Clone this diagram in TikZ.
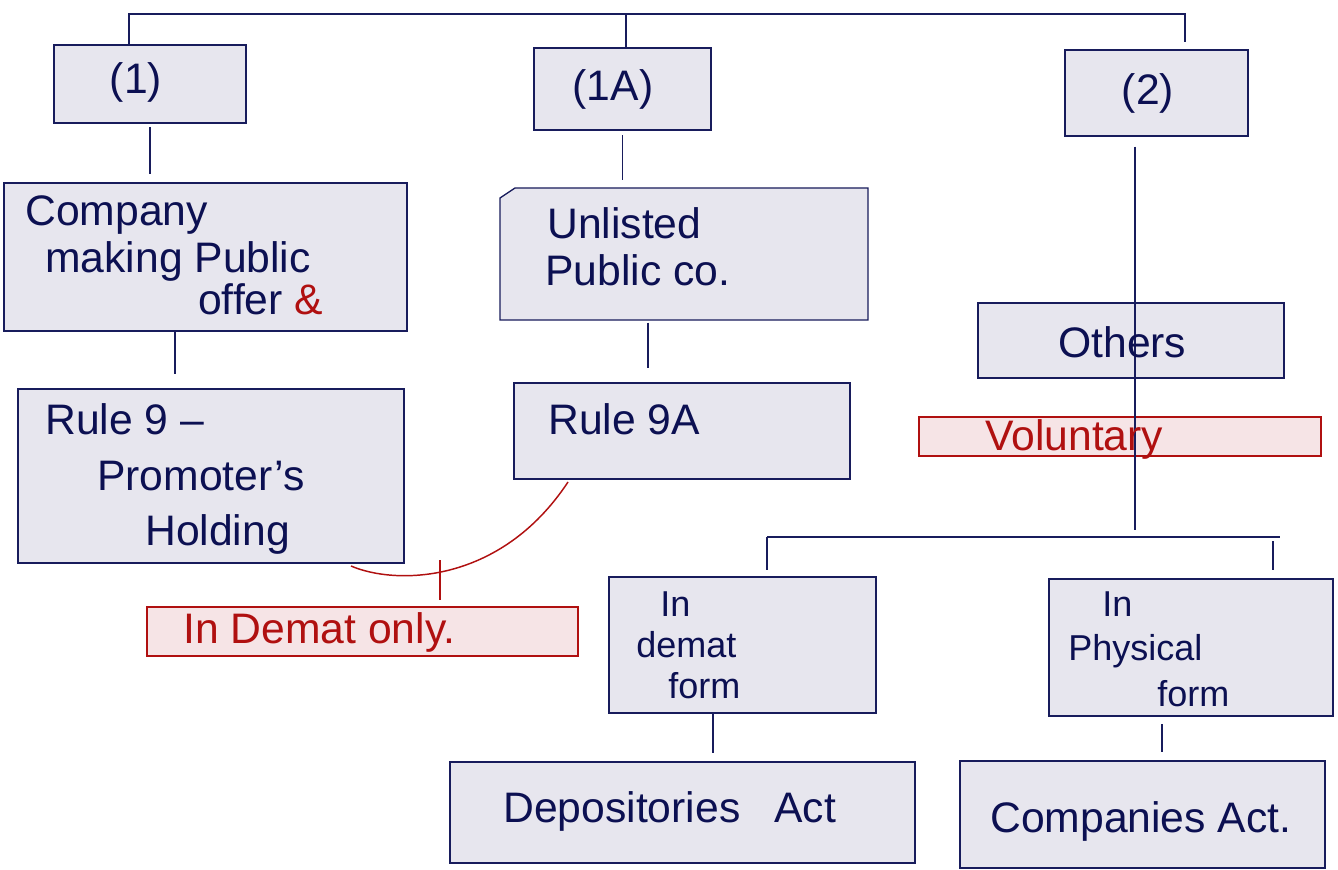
\documentclass[tikz,border=0pt]{standalone}
\usepackage{fontspec}
\setmainfont{Liberation Sans}
\usetikzlibrary{fit}
\definecolor{navy}{RGB}{24,28,92}
\definecolor{ink}{RGB}{12,16,82}
\definecolor{boxfill}{RGB}{231,230,238}
\definecolor{redline}{RGB}{176,16,16}
\definecolor{pinkfill}{RGB}{246,228,230}
\begin{document}
\begin{tikzpicture}[x=0.75pt,y=-0.75pt,
  box/.style={draw=navy, fill=boxfill, line width=1pt, inner sep=0pt, outer sep=0pt},
  ghost/.style={inner sep=0pt, outer sep=0pt},
  redbox/.style={draw=redline, fill=pinkfill, line width=1.1pt, inner sep=0pt, outer sep=0pt},
  conn/.style={draw=navy, line width=0.8pt},
  redconn/.style={draw=redline, line width=1.1pt},
  txt/.style={text=ink, inner sep=0pt, anchor=base west, font=\fontsize{32}{38}\selectfont},
  smalltxt/.style={txt, font=\fontsize{27}{32}\selectfont},
  ctxt/.style={txt, anchor=center},
  redtxt/.style={txt, text=redline}]
\useasboundingbox[fill=white] (0,0) rectangle (1338,870);

% boxes
\node[box, fit={(54,45) (246,123)}] (b1) {};
\node[box, fit={(534,48) (711,130)}] (b1a) {};
\node[box, fit={(1065,50) (1248,136)}] (b2) {};
\node[box, fit={(4,183) (407,331)}] (comp) {};
\node[ghost, fit={(500,188) (868,320)}] (ul) {};
\draw[box] ([shift={(0,10)}]ul.north west) -- ([shift={(15,0)}]ul.north west) -- (ul.north east) -- (ul.south east) -- (ul.south west) -- cycle;
\node[box, fit={(18,389) (404,563)}] (r9) {};
\node[box, fit={(514,383) (850,479)}] (r9a) {};
\node[box, fit={(978,303) (1284,378)}] (oth) {};
\node[redbox, fit={(919,417) (1321,456)}] (vol) {};
\node[redbox, fit={(147,607) (578,656)}] (donly) {};
\node[box, fit={(609,577) (876,713)}] (dm) {};
\node[box, fit={(1049,579) (1333,716)}] (ph) {};
\node[box, fit={(450,762) (915,863)}] (dep) {};
\node[box, fit={(960,761) (1325,868)}] (cact) {};

% coordinates for connectors
\coordinate (busL) at (129,14);
\coordinate (busM) at (626,14);
\coordinate (busR) at (1185,14);
\coordinate (xa) at (175,0);
\coordinate (xb) at (648,0);
\coordinate (xc) at (1135,0);
\coordinate (hub) at (1135,530);
\coordinate (hl) at (767,537);
\coordinate (hr) at (1280,537);
\coordinate (hr2) at (1273,541);
\coordinate (xd) at (713,0);
\coordinate (xe) at (1162,0);
\coordinate (ra) at (351,566);
\coordinate (rb) at (568,482);
\coordinate (rt) at (440,560);

% connectors
\draw[conn] (b1.north -| busL) -- (busL) -- (busR) -- ([shift={(0,28)}]busR);
\draw[conn] (busM) -- (b1a.north -| busM);
\draw[conn, shorten <=3pt, shorten >=7pt] (b1.south) -- (b1.south |- comp.north);
\draw[conn, shorten <=4pt, shorten >=6pt] (b1a.south) -- (b1a.south |- ul.north);
\draw[conn, shorten >=11pt] (comp.south -| xa) -- (r9.north -| xa);
\draw[conn, shorten <=2pt, shorten >=11pt] (ul.south -| xb) -- (r9a.north -| xb);
\draw[conn, shorten <=8pt] (b2.south -| xc) -- (hub);
\draw[conn] (hl) -- (hr);
\draw[conn, shorten >=5pt] (hl) -- (dm.north -| hl);
\draw[conn, shorten >=7pt] (hr2) -- (ph.north -| hr2);
\draw[conn, shorten <=1pt, shorten >=7pt] (dm.south -| xd) -- (dep.north -| xd);
\draw[conn, shorten <=6pt, shorten >=7pt] (ph.south -| xe) -- (cact.north -| xe);
\draw[redconn] (ra) .. controls (395,585) and (500,585) .. (rb);
\draw[redconn, shorten >=5pt] (rt) -- (donly.north -| rt);

% texts
\node[ctxt] (t1) at (136,82) {(1)};
\node[ctxt] (t1a) at (613,89) {(1A)};
\node[ctxt] (t2) at (1148,93) {(2)};
\node[txt] (c1) at (25,225) {Company};
\node[txt] (c2) at (45,272) {making Public};
\node[txt] (c3) at (198,314) {offer \textcolor{redline}{\&}};
\node[txt] (u1) at (547,238) {Unlisted};
\node[txt] (u2) at (545,285) {Public co.};
\node[txt] (r1) at (45,434) {Rule 9 –};
\node[txt] (r2) at (97,490) {Promoter’s};
\node[txt] (r3) at (145,545) {Holding};
\node[txt] (ra1) at (548,434) {Rule 9A};
\node[txt] (o1) at (1058,357) {Others};
\node[redtxt] (v1) at (985,450) {Voluntary};
\node[redtxt] (d1) at (183,643) {In Demat only.};
\node[smalltxt] (dm1) at (660,616) {In};
\node[smalltxt] (dm2) at (636,657) {demat};
\node[smalltxt] (dm3) at (668,698) {form};
\node[smalltxt] (p1) at (1102,616) {In};
\node[smalltxt] (p2) at (1068,660) {Physical};
\node[smalltxt] (p3) at (1157,706) {form};
\node[txt] (de1) at (503,822) {Depositories\hspace{0.8em}Act};
\node[txt] (ca1) at (990,832) {Companies Act.};
\end{tikzpicture}
\end{document}
